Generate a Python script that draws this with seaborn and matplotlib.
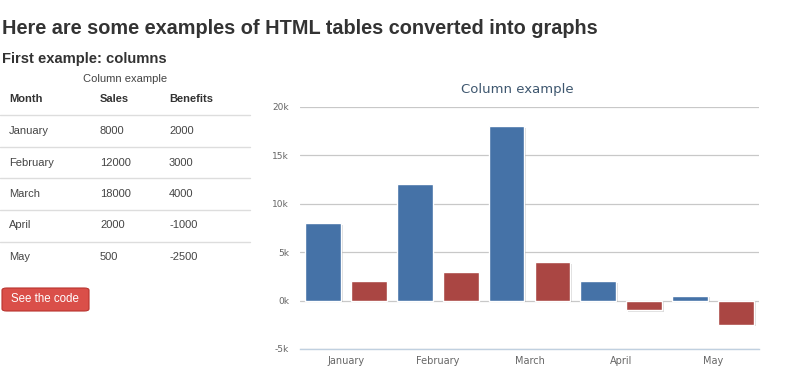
import matplotlib
matplotlib.use("Agg")
import matplotlib.pyplot as plt
import matplotlib.patheffects as pe
from matplotlib.lines import Line2D
from matplotlib.patches import FancyBboxPatch
from matplotlib.ticker import FuncFormatter, FixedLocator
import pandas as pd
import seaborn as sns

# table / chart data
months = ["January", "February", "March", "April", "May"]
sales = [8000, 12000, 18000, 2000, 500]
benefits = [2000, 3000, 4000, -1000, -2500]
series_names = ["Sales", "Benefits"]
y_ticks = [-5000, 0, 5000, 10000, 15000, 20000]

W, H = 800, 368
SALES_COLOR = "#4572A7"
BENEFITS_COLOR = "#AA4643"
TEXT = "#333333"


def fx(x):
    return x / W


def fy(y):
    return 1 - y / H


sns.set_theme(style="white")
plt.rcParams["font.family"] = ["Liberation Sans", "DejaVu Sans"]

fig = plt.figure(figsize=(W / 100, H / 100), dpi=100)

# page headings
fig.text(fx(2), fy(28), "Here are some examples of HTML tables converted into graphs",
         fontsize=14.3, fontweight="bold", color=TEXT, va="center", ha="left")
fig.text(fx(2), fy(59), "First example: columns",
         fontsize=10.6, fontweight="bold", color=TEXT, va="center", ha="left")

# html table on the left
fig.text(fx(125), fy(79), "Column example", fontsize=8, color="#444444", ha="center", va="center")
col_x = [9, 100, 169]
for x, label in zip(col_x, ["Month"] + series_names):
    fig.text(fx(x), fy(99.5), label, fontsize=8, fontweight="bold", color=TEXT, va="center")

line_y = [115, 147, 178, 210, 241.5]
for y in line_y:
    fig.add_artist(Line2D([fx(0), fx(250)], [fy(y), fy(y)], color="#DDDDDD", lw=1))

row_y = [131, 162.5, 194, 225.5, 257]
for y, m, s, b in zip(row_y, months, sales, benefits):
    for x, val in zip(col_x, [m, s, b]):
        fig.text(fx(x), fy(y), str(val), fontsize=8, color="#444444", va="center")

# "See the code" button
btn = FancyBboxPatch((fx(2), fy(311)), fx(87), 23 / H,
                     boxstyle="round,pad=0,rounding_size=0.006",
                     transform=fig.transFigure, facecolor="#DA4F49",
                     edgecolor="#B8332E", lw=0.8)
fig.add_artist(btn)
fig.text(fx(45), fy(299.5), "See the code", fontsize=8.3, color="white", ha="center", va="center")

# column chart
ax = fig.add_axes([fx(300), fy(349), (759 - 300) / W, (349 - 107) / H])
df = pd.DataFrame({
    "month": months * 2,
    "value": sales + benefits,
    "series": [series_names[0]] * len(months) + [series_names[1]] * len(months),
})
sns.barplot(data=df, x="month", y="value", hue="series", order=months,
            palette={"Sales": SALES_COLOR, "Benefits": BENEFITS_COLOR},
            saturation=1, width=1.0, gap=0.22, edgecolor="white", linewidth=1,
            legend=False, ax=ax)

shadow = [pe.SimplePatchShadow(offset=(1.2, -1.2), shadow_rgbFace="#999999", alpha=0.35),
          pe.Normal()]
for p in ax.patches:
    p.set_path_effects(shadow)
    p.set_zorder(3)

ax.set_xlim(-0.5, len(months) - 0.5)
ax.set_ylim(y_ticks[0], y_ticks[-1])
ax.set_yticks(y_ticks)
ax.yaxis.set_major_formatter(FuncFormatter(lambda v, _: f"{int(v / 1000)}k"))
ax.grid(axis="y", color="#C8C8C8", lw=0.9, zorder=0)
ax.set_axisbelow(True)
for side in ["top", "right", "left"]:
    ax.spines[side].set_visible(False)
ax.spines["bottom"].set_color("#C0D0E0")
ax.spines["bottom"].set_linewidth(1)

ax.xaxis.set_minor_locator(FixedLocator([i + 0.5 for i in range(len(months))]))
ax.tick_params(axis="x", which="major", length=0, pad=5, labelsize=7, labelcolor="#666666")
ax.tick_params(axis="x", which="minor", length=4, width=0.8, color="#C0D0E0", direction="out")
ax.tick_params(axis="y", length=0, pad=8, labelsize=6.5, labelcolor="#666666")
for lbl in ax.get_xticklabels() + ax.get_yticklabels():
    lbl.set_family(["DejaVu Sans"])
ax.set_xlabel("")
ax.set_ylabel("")

fig.text(fx(517), fy(90), "Column example", fontsize=9.5, color="#3E576F",
         ha="center", va="center", family=["DejaVu Sans"])

fig.savefig("out.png", dpi=100)
